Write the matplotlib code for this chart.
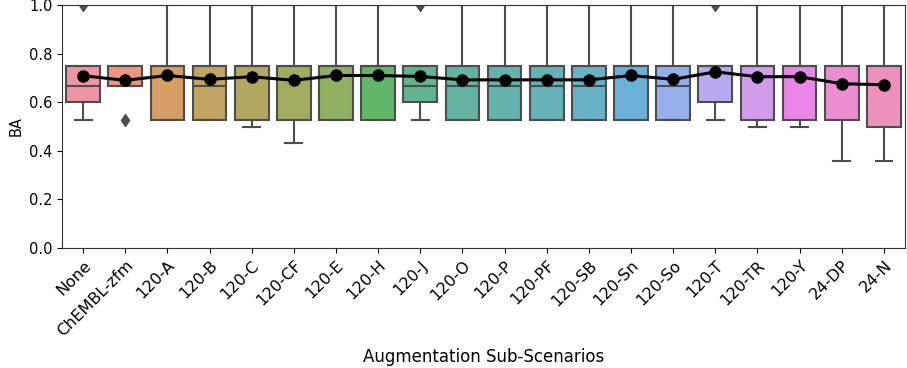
import colorsys
import matplotlib
matplotlib.use("Agg")
import matplotlib.pyplot as plt
import seaborn as sns

categories = ["None", "ChEMBL-zfm", "120-A", "120-B", "120-C", "120-CF", "120-E",
              "120-H", "120-J", "120-O", "120-P", "120-PF", "120-SB", "120-Sn",
              "120-So", "120-T", "120-TR", "120-Y", "24-DP", "24-N"]
q1 = [0.600, 0.667, 0.525, 0.525, 0.525, 0.525, 0.525, 0.525, 0.600, 0.525,
      0.525, 0.525, 0.525, 0.525, 0.525, 0.600, 0.525, 0.525, 0.525, 0.500]
med = [0.667, 0.667, 0.750, 0.667, 0.750, 0.750, 0.750, 0.750, 0.667, 0.667,
       0.667, 0.667, 0.667, 0.750, 0.667, 0.750, 0.750, 0.750, 0.750, 0.750]
q3 = [0.750] * 20
whis_lo = [0.525, 0.667, 0.525, 0.525, 0.500, 0.433, 0.525, 0.525, 0.525, 0.525,
           0.525, 0.525, 0.525, 0.525, 0.525, 0.525, 0.500, 0.500, 0.357, 0.357]
whis_hi = [0.750, 0.750, 1.000, 1.000, 1.000, 1.000, 1.000, 1.000, 0.750, 1.000,
           1.000, 1.000, 1.000, 1.000, 1.000, 0.750, 1.000, 1.000, 1.000, 1.000]
fliers = [[1.0], [0.525], [], [], [], [], [], [], [1.0], [],
          [], [], [], [], [], [1.0], [], [], [], []]
means = [0.709, 0.690, 0.710, 0.694, 0.705, 0.690, 0.710, 0.710, 0.706, 0.692,
         0.692, 0.692, 0.692, 0.710, 0.694, 0.725, 0.705, 0.705, 0.676, 0.672]
yticks = [0.0, 0.2, 0.4, 0.6, 0.8, 1.0]

pal = sns.husl_palette(len(categories))
pal = [sns.desaturate(c, 0.8) for c in pal]
gray = (0.30, 0.30, 0.30)
# slightly lighter fills, as in the reference
pal = [tuple(0.82 * ch + 0.18 for ch in c) for c in pal]

fig = plt.figure(figsize=(9.07, 3.68), dpi=100)
ax = fig.add_axes([0.0684, 0.326, 0.9294, 0.6604])

stats = []
for i, c in enumerate(categories):
    stats.append(dict(label=c, q1=q1[i], med=med[i], q3=q3[i],
                      whislo=whis_lo[i], whishi=whis_hi[i], fliers=fliers[i]))
pos = list(range(len(categories)))
bp = ax.bxp(stats, positions=pos, widths=0.8, patch_artist=True,
            showfliers=True,
            boxprops=dict(edgecolor=gray, linewidth=1.5),
            medianprops=dict(color=gray, linewidth=1.5),
            whiskerprops=dict(color=gray, linewidth=1.5),
            capprops=dict(color=gray, linewidth=1.5),
            flierprops=dict(marker="d", markerfacecolor=gray, markeredgecolor=gray,
                            markersize=6, linestyle="none"))
for patch, col in zip(bp["boxes"], pal):
    patch.set_facecolor(col)

ax.plot(pos, means, color="black", marker="o", markersize=8, linewidth=2.2, zorder=5)

ax.set_xlim(-0.5, len(categories) - 0.5)
ax.set_ylim(0, 1.0)
ax.set_yticks(yticks)
ax.set_yticklabels([f"{v:.1f}" for v in yticks], fontsize=10.5)
ax.set_xticks(pos)
ax.set_xticklabels(categories, rotation=45, ha="right", rotation_mode="anchor", fontsize=11.5)
ax.set_ylabel("BA", fontsize=10.5)
ax.set_xlabel("Augmentation Sub-Scenarios", fontsize=12, labelpad=6)
for s in ax.spines.values():
    s.set_color("#333333")

fig.savefig("out.png", dpi=100)
